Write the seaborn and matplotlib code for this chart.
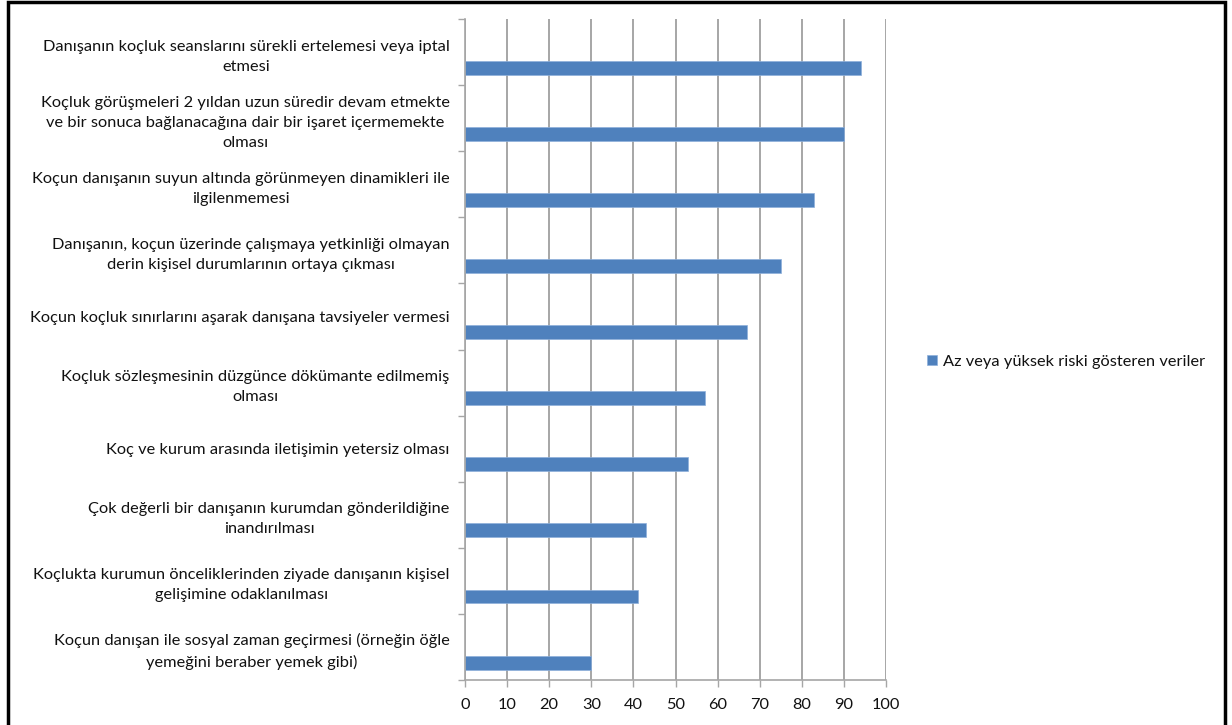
import numpy as np
import pandas as pd
import matplotlib
matplotlib.use("Agg")
import matplotlib.pyplot as plt
import seaborn as sns
from matplotlib.patches import Rectangle

categories = [
    "Danışanın koçluk seanslarını sürekli ertelemesi veya iptal\netmesi",
    "Koçluk görüşmeleri 2 yıldan uzun süredir devam etmekte\nve bir sonuca bağlanacağına dair bir işaret içermemekte\nolması",
    "Koçun danışanın suyun altında görünmeyen dinamikleri ile\nilgilenmemesi",
    "Danışanın, koçun üzerinde çalışmaya yetkinliği olmayan\nderin kişisel durumlarının ortaya çıkması",
    "Koçun koçluk sınırlarını aşarak danışana tavsiyeler vermesi",
    "Koçluk sözleşmesinin düzgünce dökümante edilmemiş\nolması",
    "Koç ve kurum arasında iletişimin yetersiz olması",
    "Çok değerli bir danışanın kurumdan gönderildiğine\ninandırılması",
    "Koçlukta kurumun önceliklerinden ziyade danışanın kişisel\ngelişimine odaklanılması",
    "Koçun danışan ile sosyal zaman geçirmesi (örneğin öğle\nyemeğini beraber yemek gibi)",
]
values = [94, 90, 83, 75, 67, 57, 53, 43, 41, 30]
series_name = "Az veya yüksek riski gösteren veriler"
x_ticks = [0, 10, 20, 30, 40, 50, 60, 70, 80, 90, 100]

df = pd.DataFrame({"label": categories, "value": values, "series": series_name})

sns.set_theme(style="white")
plt.rcParams["font.family"] = ["Lato", "DejaVu Sans"]

text_color = "#111111"
grid_color = "#a6a6a6"
bar_color = "#4F81BD"
fs = 11.8

fig = plt.figure(figsize=(12.32, 7.25), dpi=100)
ax = fig.add_axes([465 / 1232, 1 - 680 / 725, (886 - 465) / 1232, (680 - 19) / 725])

sns.barplot(data=df, x="value", y="label", hue="series", palette=[bar_color],
            orient="h", width=0.21, ax=ax, saturation=1,
            edgecolor="#8fb0db", linewidth=0.5, legend=True)

n = len(categories)
ax.set_xlim(0, 100)
ax.set_ylim(n - 1 + 0.263, -0.737)

ax.set_xticks(x_ticks)
ax.set_xticklabels([str(t) for t in x_ticks], fontsize=fs, color=text_color)
ax.tick_params(axis="x", length=5, width=1, color=grid_color, pad=8, bottom=True)

ax.set_yticks(np.arange(n) - 0.237)
ax.set_yticklabels(categories, fontsize=fs, color=text_color, linespacing=1.55)
for t in ax.get_yticklabels():
    t.set_multialignment("center")
ax.tick_params(axis="y", which="major", length=0, pad=11)
ax.set_yticks(np.arange(n + 1) - 0.737, minor=True)
ax.tick_params(axis="y", which="minor", length=5, width=1, color=grid_color, left=True)

ax.set_xlabel("")
ax.set_ylabel("")
ax.xaxis.grid(True, color=grid_color, linewidth=1.4)
ax.yaxis.grid(False)
ax.set_axisbelow(True)
for s in ["top", "right"]:
    ax.spines[s].set_visible(False)
for s in ["left", "bottom"]:
    ax.spines[s].set_color(grid_color)
    ax.spines[s].set_linewidth(1.2)

leg = ax.legend(loc="center left", bbox_to_anchor=(927 / 1232, 1 - 362 / 725),
                bbox_transform=fig.transFigure, frameon=False, fontsize=fs,
                handlelength=0.6, handleheight=0.6, handletextpad=0.4,
                borderaxespad=0, borderpad=0)
for t in leg.get_texts():
    t.set_color(text_color)

fig.patches.append(Rectangle((8 / 1232, -0.05), (1225 - 8) / 1232, 1.05 - 1.5 / 725,
                             transform=fig.transFigure, fill=False,
                             edgecolor="black", linewidth=2.5))

fig.savefig("out.png", dpi=100, facecolor="white")
